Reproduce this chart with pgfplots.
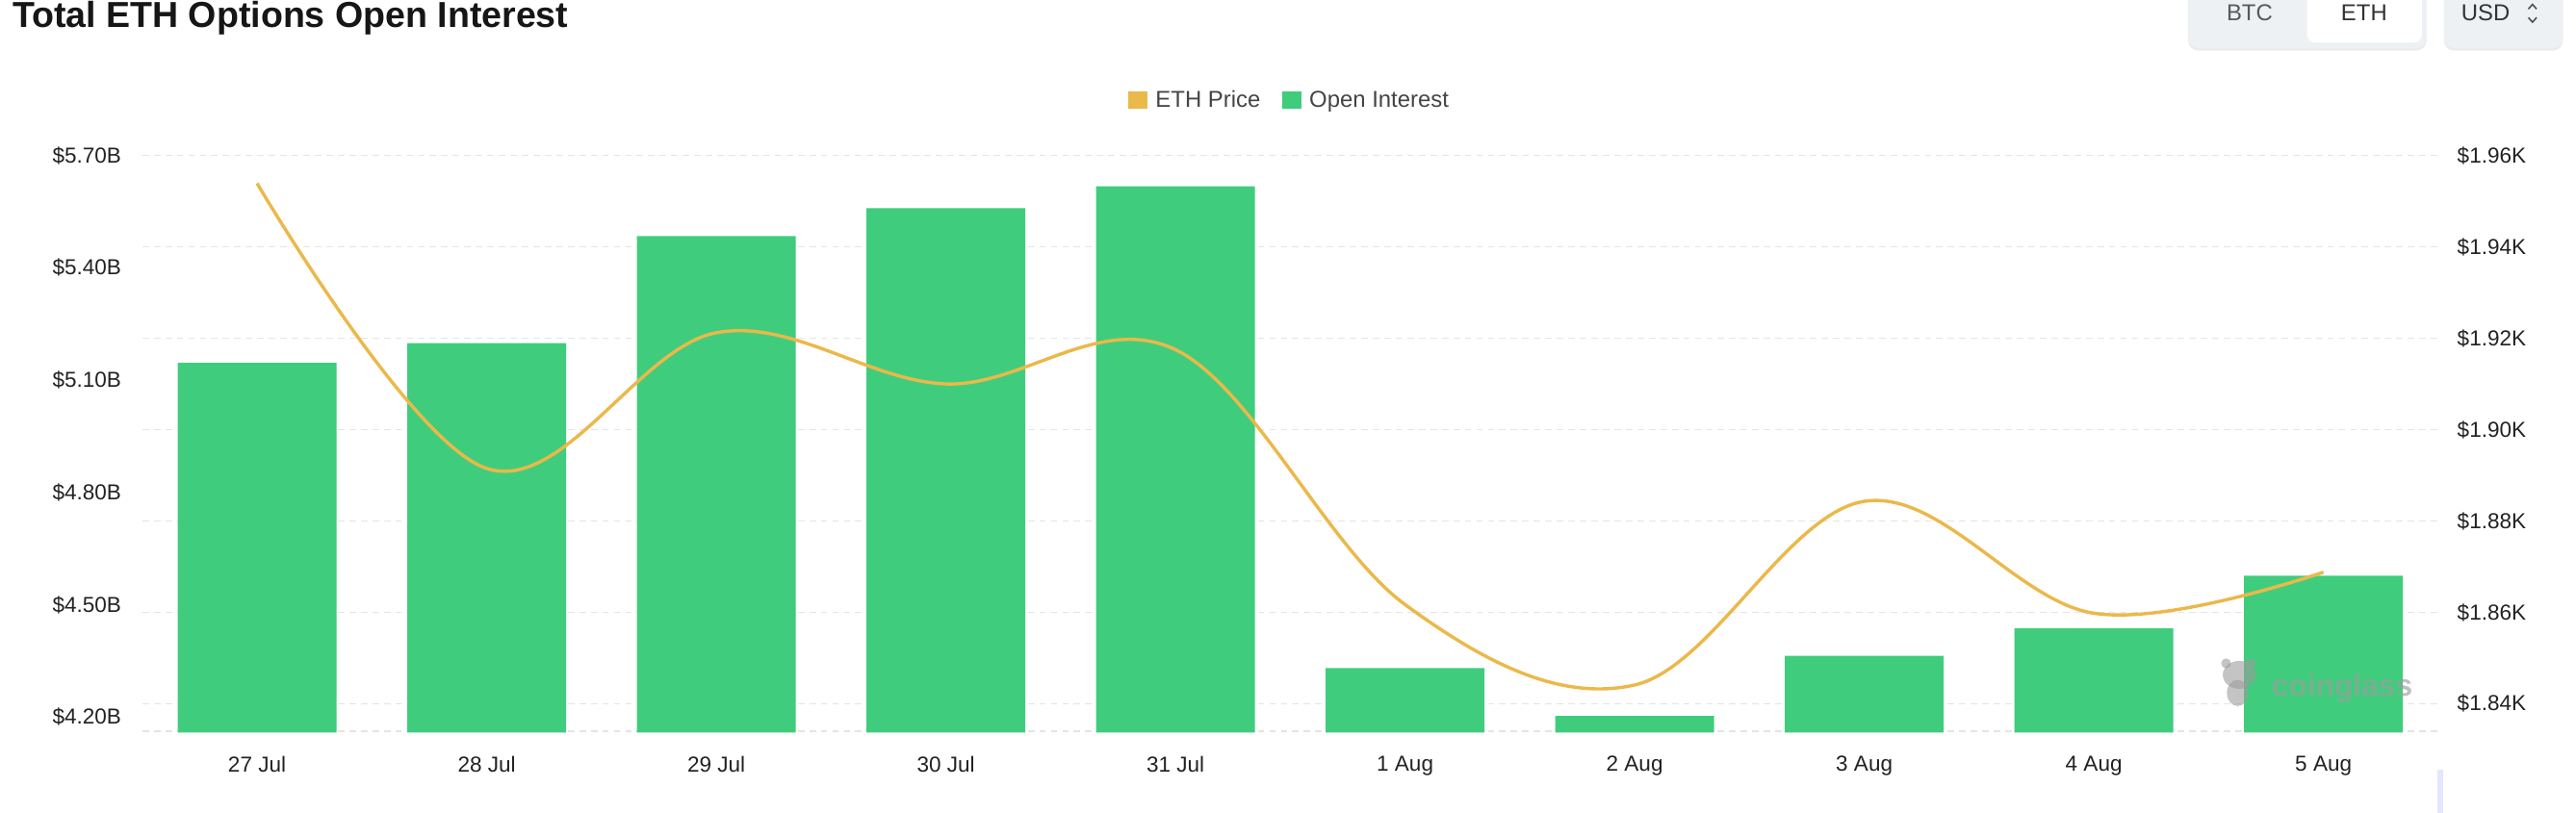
\documentclass[border=0pt]{standalone}
\usepackage{pgfplots}
\pgfplotsset{compat=1.18}
\usepackage{fontspec}
\setmainfont{Liberation Sans}
\definecolor{oigreen}{HTML}{3FCD7D}
\definecolor{ethorange}{HTML}{EBB84A}
\definecolor{gridgray}{HTML}{E4E4E4}
\definecolor{labelgray}{HTML}{222222}
\definecolor{legendgray}{HTML}{444444}
\definecolor{btnbg}{HTML}{EEF1F4}
\definecolor{titlecol}{HTML}{161616}
\definecolor{wmgray}{HTML}{9C9C9C}

\pgfplotstableread{
x oi price
0 5.146 1953.9
1 5.199 1891.5
2 5.485 1921.2
3 5.559 1910.0
4 5.618 1917.5
5 4.331 1861.7
6 4.203 1844.1
7 4.364 1884.3
8 4.437 1859.8
9 4.578 1868.8
}\ethdata

\begin{document}
\begin{tikzpicture}[x=1pt,y=1pt]
\useasboundingbox (0,0) rectangle (1568,495);
\pgfplotsset{base/.style={scale only axis, width=1397.6pt, height=351.4pt,
  at={(86.6pt,48.9pt)}, anchor=south west, xmin=-0.5, xmax=9.5,
  axis line style={draw=none}, tick style={draw=none}}}

% grid (right-axis ticks)
\begin{axis}[base, ymin=1833.7, ymax=1960, ytick={1840,1860,...,1960},
  yticklabels={}, xtick=\empty, ymajorgrids,
  grid style={gridgray, dash pattern=on 4pt off 3pt, line width=1pt},
  extra y ticks={1833.9}, extra y tick labels={},
  extra y tick style={grid style={gridgray, dash pattern=on 4pt off 3pt, line width=1.3pt}}]
\addplot[draw=none] coordinates {(0,1900)};
\end{axis}

% bars, left axis
\begin{axis}[base, ymin=4.159, ymax=5.70,
  ytick={4.2,4.5,4.8,5.1,5.4,5.7},
  yticklabels={\$4.20B,\$4.50B,\$4.80B,\$5.10B,\$5.40B,\$5.70B},
  xtick={0,...,9},
  xticklabels={27 Jul,28 Jul,29 Jul,30 Jul,31 Jul,1 Aug,2 Aug,3 Aug,4 Aug,5 Aug},
  yticklabel style={anchor=east, inner sep=0pt, xshift=-12.6pt, font=\fontsize{13.2}{15}\selectfont, text=labelgray},
  xticklabel style={anchor=north, inner sep=0pt, yshift=-10pt, font=\fontsize{13.2}{15}\selectfont, text=labelgray},
  ybar, bar width=96.7pt]
\addplot[fill=oigreen, draw=none] table[x=x, y=oi] {\ethdata};
\end{axis}

% price line, right axis
\begin{axis}[base, ymin=1833.7, ymax=1960, ytick={1840,1860,...,1960},
  yticklabels={\$1.84K,\$1.86K,\$1.88K,\$1.90K,\$1.92K,\$1.94K,\$1.96K},
  yticklabel pos=right, xtick=\empty,
  yticklabel style={anchor=west, inner sep=0pt, xshift=11.4pt, font=\fontsize{13.2}{15}\selectfont, text=labelgray},
  legend style={at={(0.5,1.096)}, anchor=center, draw=none, fill=none,
    legend columns=-1, font=\fontsize{14}{16}\selectfont, text=legendgray,
    /tikz/every even column/.append style={column sep=11.3pt}},
  legend image code/.code={\fill[#1, draw=none] (0pt,-5.2pt) rectangle (11.5pt,5.2pt); \path (14.3pt,0pt);}]
\addlegendimage{fill=ethorange}\addlegendentry{ETH Price}
\addlegendimage{fill=oigreen}\addlegendentry{Open Interest}
\addplot[ethorange, line width=2pt, smooth, tension=0.6, forget plot] table[x=x, y=price] {\ethdata};
\end{axis}

% title
\node[anchor=base west, font=\bfseries\fontsize{22}{26}\selectfont, text=titlecol, inner sep=0pt] at (7.5,478.4) {Total ETH Options Open Interest};

% buttons
\fill[black!8, rounded corners=6pt] (1332,464.2) rectangle (1477,510);
\fill[btnbg, rounded corners=6pt] (1332,465.7) rectangle (1477,510);
\fill[white, rounded corners=5pt] (1404.3,469) rectangle (1474.2,510);
\fill[black!8, rounded corners=6pt] (1487.6,464.2) rectangle (1560,510);
\fill[btnbg, rounded corners=6pt] (1487.6,465.7) rectangle (1560,510);
\node[font=\fontsize{14}{16}\selectfont, text=black!65] at (1369.3,487.2) {BTC};
\node[font=\fontsize{14}{16}\selectfont, text=black!80] at (1439,487.2) {ETH};
\node[font=\fontsize{14}{16}\selectfont, text=black!80] at (1513,487.2) {USD};
\draw[black!70, line width=0.9pt] (1539,489.5) -- (1541.5,492.3) -- (1544,489.5);
\draw[black!70, line width=0.9pt] (1539,484.3) -- (1541.5,481.5) -- (1544,484.3);

% watermark
\begin{scope}[opacity=0.6]
\fill[wmgray] (1363,84) ellipse (10 and 8.5);
\fill[wmgray] (1362,73) ellipse (6.5 and 8);
\fill[wmgray] (1355,91) circle (3);
\fill[wmgray] (1370,91) circle (3);
\end{scope}
\node[anchor=base west, font=\bfseries\fontsize{18.6}{20}\selectfont, text=wmgray, opacity=0.65, inner sep=0pt] at (1382.5,71) {coinglass};

% slider handle
\fill[blue!10] (1483.5,0) rectangle (1487,26);
\end{tikzpicture}
\end{document}
